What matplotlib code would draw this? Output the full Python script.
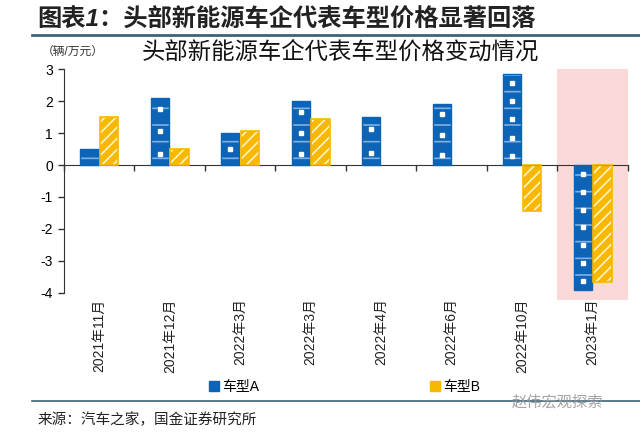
import numpy as np
import matplotlib.pyplot as plt
from matplotlib.lines import Line2D
from matplotlib.patches import Rectangle
import matplotlib.transforms as mtrans

plt.rcParams['font.family'] = ['Liberation Sans', 'Noto Sans CJK SC', 'DejaVu Sans']
plt.rcParams['hatch.linewidth'] = 1.2

# data
months = ['2021年11月', '2021年12月', '2022年3月', '2022年3月',
          '2022年4月', '2022年6月', '2022年10月', '2023年1月']
car_a = [0.5, 2.1, 1.0, 2.0, 1.5, 1.9, 2.85, -3.9]
car_b = [1.5, 0.5, 1.05, 1.45, 0, 0, -1.45, -3.65]
yticks = [3, 2, 1, 0, -1, -2, -3, -4]

blue = '#0d63b5'
yellow = '#f8b800'

fig = plt.figure(figsize=(6.4, 4.32), dpi=100)
ax = fig.add_axes([0.1, 0.322, 0.881, 0.518])

x = np.arange(len(months))
w = 0.26
off = 0.14

# highlight last month
hl = Rectangle((6.5, -4.22), 1.0, 7.22, facecolor='#fcd9d9', edgecolor='none',
               zorder=0, clip_on=False)
ax.add_patch(hl)

# bars: fill + white hatch, then outline on top
lw_a = [1.0 if v != 0 else 0 for v in car_a]
lw_b = [1.2 if v != 0 else 0 for v in car_b]
ax.bar(x - off, car_a, w, color=blue, edgecolor='#7fb0e3', hatch='-', lw=0, zorder=2)
ax.bar(x - off, car_a, w, fill=False, edgecolor=blue, lw=lw_a, zorder=3)
ax.bar(x + off, car_b, w, color=yellow, edgecolor='#fff3c8', hatch='///', lw=0, zorder=2)
ax.bar(x + off, car_b, w, fill=False, edgecolor=yellow, lw=lw_b, zorder=3)
# white square dots on blue bars
for xi, v in zip(x, car_a):
    n = int(abs(v) / 0.55)
    if n == 0:
        continue
    ys = (np.arange(n) + 0.5) * (abs(v) / n) * np.sign(v)
    ax.plot([xi - off] * n, ys, ls='none', marker='s', ms=3.5, mfc='white',
            mec='white', zorder=4)

ax.set_xlim(-0.5, 7.5)
ax.set_ylim(-4, 3)
ax.set_yticks(yticks)
ax.set_yticklabels([str(t) for t in yticks], fontsize=10)
ax.tick_params(axis='y', direction='out', length=4, width=1, color='#333333', pad=4)

for s in ['top', 'right']:
    ax.spines[s].set_visible(False)
ax.spines['left'].set_color('#333333')
ax.spines['bottom'].set_position(('data', 0))
ax.spines['bottom'].set_color('#333333')
ax.set_xticks(np.arange(len(months) + 1) - 0.5)
ax.set_xticklabels([])
ax.tick_params(axis='x', direction='out', length=4, width=1, color='#333333')

trans = mtrans.blended_transform_factory(ax.transData, ax.transAxes)
for xi, m in zip(x, months):
    ax.text(xi, -0.025, m, transform=trans, rotation=90, ha='center', va='top',
            fontsize=10, color='#222222')

# legend
handles = [Line2D([], [], ls='none', marker='s', ms=7, mfc=blue, mec=blue),
           Line2D([], [], ls='none', marker='s', ms=7, mfc=yellow, mec=yellow)]
fig.legend(handles, ['车型A', '车型B'], loc='center', bbox_to_anchor=(0.538, 0.104),
           ncol=2, frameon=False, fontsize=10, columnspacing=12.2, handletextpad=0.2,
           handlelength=0.8)

# titles and notes
fig.text(0.058, 0.953, '图表1：头部新能源车企代表车型价格显著回落', fontsize=17.5,
         fontweight='bold', style='italic', color='#222222', va='center')
fig.add_artist(Line2D([0.05, 1.0], [0.919, 0.919], transform=fig.transFigure,
                      color='#3d6378', lw=2))
fig.text(0.065, 0.879, '（辆/万元）', fontsize=8.5, color='#333333', va='center')
fig.text(0.222, 0.879, '头部新能源车企代表车型价格变动情况', fontsize=16.8,
         color='#111111', va='center')
fig.add_artist(Line2D([0.05, 1.0], [0.072, 0.072], transform=fig.transFigure,
                      color='#3d6378', lw=1.2))
fig.text(0.058, 0.028, '来源：汽车之家，国金证券研究所', fontsize=10.5,
         color='#222222', va='center')
fig.text(0.80, 0.068, '赵伟宏观探索', fontsize=11, color='#9a9a9a', va='center',
         alpha=0.9)

fig.savefig('out.png', dpi=100)
